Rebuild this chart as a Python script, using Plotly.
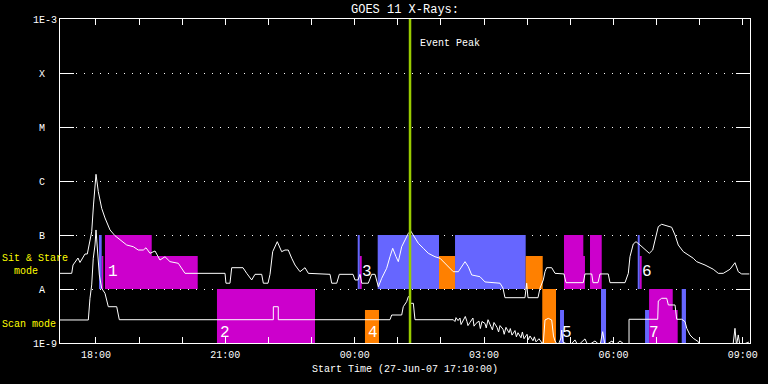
import datetime as dt
import plotly.graph_objects as go

# ---------------- data ----------------
START = dt.datetime(2007, 6, 27, 17, 10, 0)
END = dt.datetime(2007, 6, 28, 9, 10, 0)
PEAK_TIME = dt.datetime(2007, 6, 28, 1, 17, 0)

# long channel (upper curve): minutes after start, flux (W/m^2)
long_min = [0, 16.3, 18.1, 20.9, 25.0, 27.8, 32.0, 34.8, 38.0, 41.7,
            44.1, 46.6, 50.1, 53.3, 58.0, 62.6, 69.6, 76.5, 83.5, 92.8,
            102.0, 108.9, 115.9, 119.7, 125.2, 132.2, 139.1, 146.1, 153.0, 164.6,
            173.9, 229.6, 230.9, 236.5, 238.9, 254.6, 259.8, 266.7, 271.3, 280.6,
            282.9, 289.4, 292.2, 295.9, 302.3, 308.4, 313.0, 317.6, 322.4, 327.0,
            333.9, 340.9, 345.5, 375.7, 378.0, 385.0, 388.6, 407.7, 410.4, 414.6,
            417.4, 419.8, 428.9, 433.7, 438.3, 442.9, 447.6, 454.5, 459.1, 462.9,
            467.5, 470.7, 475.4, 480.0, 484.6, 487.9, 493.9, 498.5, 505.5, 512.4,
            521.7, 528.7, 538.0, 547.2, 554.2, 558.9, 563.5, 568.1, 572.8, 584.3,
            591.3, 612.2, 616.3, 619.1, 646.9, 649.3, 651.1, 665.0, 667.8, 672.4,
            674.8, 677.1, 684.1, 688.7, 701.2, 704.0, 728.1, 730.4, 739.8, 741.6,
            748.5, 751.3, 762.8, 765.2, 786.1, 790.7, 793.0, 797.6, 801.4, 807.0,
            813.9, 819.9, 824.6, 830.2, 832.4, 837.1, 844.1, 851.0, 855.7, 860.2,
            867.2, 874.1, 881.1, 885.8, 892.8, 897.4, 908.9, 915.9, 922.8, 932.2,
            939.1, 943.7, 948.4, 959.0]
long_flux = [1.95e-8, 1.95e-8, 2.78e-8, 3.2e-8, 3.75e-8, 3.1e-8, 3.75e-8, 4.45e-8, 4.45e-8, 8.1e-8,
             1.15e-7, 3.6e-7, 1.33e-6, 6.34e-7, 3.12e-7, 2.07e-7, 1.24e-7, 9.7e-8, 8.07e-8, 6.53e-8,
             6.07e-8, 5.27e-8, 5.27e-8, 5.8e-8, 4.58e-8, 5.06e-8, 3.44e-8, 3.96e-8, 3.21e-8, 2.99e-8,
             1.95e-8, 1.95e-8, 1.28e-8, 1.28e-8, 2.48e-8, 2.48e-8, 1.95e-8, 1.47e-8, 1.87e-8, 1.87e-8,
             1.28e-8, 1.28e-8, 1.87e-8, 4.91e-8, 7.52e-8, 4.91e-8, 5.27e-8, 5.27e-8, 3.71e-8, 2.78e-8,
             2.09e-8, 2.48e-8, 1.95e-8, 1.87e-8, 1.28e-8, 1.28e-8, 1.87e-8, 1.87e-8, 1.47e-8, 1.47e-8,
             1.87e-8, 1.28e-8, 1.28e-8, 1.87e-8, 1.87e-8, 1.1e-8, 1.58e-8, 2.42e-8, 3.96e-8, 5.68e-8,
             3.96e-8, 3.21e-8, 6.07e-8, 8.07e-8, 1.07e-7, 1.19e-7, 8.69e-8, 7.02e-8, 5.68e-8, 4.58e-8,
             3.96e-8, 3.71e-8, 2.78e-8, 2.09e-8, 2.09e-8, 2.59e-8, 3.21e-8, 2.59e-8, 1.82e-8, 1.69e-8,
             1.35e-8, 1.28e-8, 1.04e-8, 6.9e-9, 6.9e-9, 1.28e-8, 6.9e-9, 6.9e-9, 1.03e-8, 1.47e-8,
             2.09e-8, 2.48e-8, 2.48e-8, 1.95e-8, 1.9e-8, 1.31e-8, 1.31e-8, 1.9e-8, 1.9e-8, 1.31e-8,
             1.31e-8, 1.9e-8, 1.9e-8, 1.31e-8, 1.31e-8, 1.95e-8, 3.96e-8, 6.81e-8, 7.52e-8, 6.53e-8,
             5.43e-8, 4.58e-8, 5.27e-8, 1.0e-7, 1.43e-7, 1.58e-7, 1.47e-7, 1.39e-7, 1.0e-7, 6.53e-8,
             4.91e-8, 4.27e-8, 3.71e-8, 3.21e-8, 2.99e-8, 2.78e-8, 2.32e-8, 1.95e-8, 1.95e-8, 2.32e-8,
             3.07e-8, 2.09e-8, 1.9e-8, 1.9e-8]

# short channel (lower curve)
short_min = [0, 39.4, 41.7, 44.1, 46.3, 48.7, 50.1, 51.9, 54.7, 58.0,
             62.6, 67.2, 78.9, 82.5, 296.8, 296.8, 303.7, 303.7, 459.1, 461.5,
             475.4, 477.6, 482.3, 484.6, 486.2, 487.0, 491.6, 493.9, 547.2, 549.5,
             551.0, 553.8, 556.5, 558.0, 560.7, 563.9, 566.2, 567.6, 570.4, 574.5,
             576.0, 578.7, 582.9, 584.8, 587.1, 591.3, 593.0, 595.5, 599.7, 601.6,
             603.8, 608.0, 610.2, 612.2, 616.3, 618.0, 620.5, 624.7, 626.5, 628.9,
             633.0, 635.0, 637.2, 641.4, 643.3, 645.6, 649.8, 651.5, 653.9, 658.1,
             660.0, 662.3, 666.4, 670.6, 672.4, 674.8, 679.4, 684.1, 686.6, 688.7,
             692.9, 697.0, 698.0, 699.8, 709.6, 716.5, 720.7, 730.4, 734.6, 744.3,
             751.3, 755.0, 758.3, 768.0, 772.2, 779.1, 787.5, 791.7, 791.7, 831.6,
             832.4, 837.1, 844.1, 846.4, 855.7, 858.0, 865.0, 869.6, 872.0, 876.5,
             881.1, 888.1, 890.4, 936.3, 939.1, 941.2, 943.7, 946.0, 958.5]
short_flux = [2.67e-9, 2.67e-9, 6.73e-9, 1.19e-8, 3.71e-8, 6.53e-8, 1.24e-7, 5.27e-8, 1.82e-8, 1.03e-8,
              8.32e-9, 4.7e-9, 4.7e-9, 2.7e-9, 2.7e-9, 4.7e-9, 4.7e-9, 2.7e-9, 2.7e-9, 3.3e-9,
              3.3e-9, 4.7e-9, 5.82e-9, 7.2e-9, 7.4e-9, 5.43e-9, 5.43e-9, 2.7e-9, 2.7e-9, 2.5e-9,
              2.95e-9, 2.6e-9, 2.9e-9, 2.2e-9, 2.6e-9, 3.1e-9, 2.5e-9, 2.1e-9, 2.4e-9, 2.9e-9,
              2.05e-9, 2.3e-9, 2.55e-9, 1.85e-9, 2.5e-9, 2.3e-9, 1.9e-9, 2.7e-9, 2.0e-9, 1.75e-9,
              2.4e-9, 1.95e-9, 1.6e-9, 2.1e-9, 1.8e-9, 1.45e-9, 1.95e-9, 1.55e-9, 1.85e-9, 1.4e-9,
              1.7e-9, 1.3e-9, 1.55e-9, 1.25e-9, 1.6e-9, 1.2e-9, 1.45e-9, 1.15e-9, 1.35e-9, 1.1e-9,
              1.3e-9, 1.05e-9, 1.2e-9, 1.0e-9, 1.0e-9, 2.67e-9, 2.86e-9, 2.67e-9, 1.35e-9, 1.09e-9,
              9e-10, 1.24e-9, 1.74e-9, 1.04e-9, 9e-10, 1.14e-9, 9e-10, 1.19e-9, 9e-10, 1.09e-9,
              9e-10, 1.62e-9, 9e-10, 1.09e-9, 9e-10, 1.09e-9, 9e-10, 9e-10, 2.75e-9, 2.75e-9,
              6.0e-9, 6.73e-9, 6.73e-9, 5.06e-9, 5.06e-9, 2.75e-9, 2.75e-9, 2.48e-9, 1.87e-9, 1.41e-9,
              1.22e-9, 1.06e-9, 9e-10, 9e-10, 1.87e-9, 9e-10, 1.41e-9, 9e-10, 1.04e-9]

# observing blocks: band, start/end (minutes after start), coverage, block type
blk_band = ["ss"] * 15 + ["scan"] * 9
blk_start = [54.3, 58.0, 62.6, 127.6, 414.2, 417.0, 442.0, 527.3, 549.6, 647.9,
             701.2, 728.1, 737.4, 803.8, 806.5,
             218.4, 424.3, 671.0, 695.7, 752.7, 814.0, 819.6, 852.5, 865.0]
blk_end = [58.0, 60.2, 127.6, 191.6, 417.0, 419.8, 527.3, 549.6, 647.9, 671.6,
           728.1, 730.4, 753.7, 806.5, 809.3,
           354.8, 443.8, 690.1, 701.2, 759.7, 819.6, 852.5, 859.4, 870.9]
blk_level = ["full", "part", "full", "part", "full", "part", "full", "part", "full", "part",
             "full", "part", "full", "full", "part",
             "full", "part", "full", "part", "full", "part", "full", "part", "full"]
blk_type = [1, 0, 0, 0, 1, 0, 1, 2, 1, 2,
            0, 0, 0, 1, 0,
            0, 2, 2, 1, 1, 1, 0, 0, 1]

# group number labels
grp_text = ["1", "2", "3", "4", "5", "6", "7"]
grp_min = [64.0, 219.8, 418.0, 426.4, 695.7, 807.0, 816.0]
grp_band = ["ss", "scan", "ss", "scan", "scan", "ss", "scan"]

y_tickvals = [1e-9, 1e-8, 1e-7, 1e-6, 1e-5, 1e-4, 1e-3]
y_ticktext = ["1E-9", "A", "B", "C", "M", "X", "1E-3"]

# ---------------- styling ----------------
TYPE_COLORS = {0: "#CC00CC", 1: "#6666FF", 2: "#FF8000"}
BAND_BOTTOM_LOG = {"ss": -8.0, "scan": -9.0}
LEVEL_FRAC = {"full": 1.0, "part": 0.61}
LABEL_LOG = {"ss": -7.68, "scan": -8.82}
FONT = "Liberation Mono"


def to_time(m):
    return START + dt.timedelta(minutes=m)


fig = go.Figure()

for tcode, col in TYPE_COLORS.items():
    xs, ys = [], []
    for b, s, e, lv, ty in zip(blk_band, blk_start, blk_end, blk_level, blk_type):
        if ty != tcode:
            continue
        lo = BAND_BOTTOM_LOG[b]
        bottom = 10 ** lo
        top = 10 ** (lo + LEVEL_FRAC[lv])
        t0, t1 = to_time(s), to_time(e)
        xs += [t0, t1, t1, t0, t0, None]
        ys += [bottom, bottom, top, top, bottom, None]
    fig.add_trace(go.Scatter(x=xs, y=ys, mode="lines", fill="toself", fillcolor=col,
                             line=dict(width=0, color=col), hoverinfo="skip",
                             showlegend=False))

fig.add_trace(go.Scatter(x=[to_time(m) for m in long_min], y=long_flux, mode="lines",
                         line=dict(color="white", width=1), showlegend=False))
fig.add_trace(go.Scatter(x=[to_time(m) for m in short_min], y=short_flux, mode="lines",
                         line=dict(color="white", width=1), showlegend=False))

fig.add_trace(go.Scatter(x=[PEAK_TIME, PEAK_TIME], y=[1e-9, 1e-3], mode="lines",
                         line=dict(color="#99CC00", width=2.5), showlegend=False))

annotations = []
for txt, m, b in zip(grp_text, grp_min, grp_band):
    annotations.append(dict(x=to_time(m), y=LABEL_LOG[b], xref="x", yref="y",
                            text=txt, showarrow=False, xanchor="left", yanchor="middle",
                            font=dict(family=FONT, size=16, color="white")))

annotations += [
    dict(x=PEAK_TIME, y=0.924, xref="x", yref="paper", text="Event Peak", showarrow=False,
         xanchor="left", yanchor="middle", xshift=8, font=dict(family=FONT, size=10, color="white")),
    dict(x=0.5, y=-0.082, xref="paper", yref="paper", text="Start Time (27-Jun-07 17:10:00)",
         showarrow=False, xanchor="center", yanchor="middle",
         font=dict(family=FONT, size=10, color="white")),
    dict(x=0, y=0.262, xref="paper", yref="paper", xshift=-60, text="Sit & Stare",
         showarrow=False, xanchor="left", yanchor="middle",
         font=dict(family=FONT, size=10, color="#FFFF00")),
    dict(x=0, y=0.222, xref="paper", yref="paper", xshift=-60, text="\u00a0\u00a0mode",
         showarrow=False, xanchor="left", yanchor="middle",
         font=dict(family=FONT, size=10, color="#FFFF00")),
    dict(x=0, y=0.0586, xref="paper", yref="paper", xshift=-60, text="Scan mode",
         showarrow=False, xanchor="left", yanchor="middle",
         font=dict(family=FONT, size=10, color="#FFFF00")),
]

fig.update_layout(
    width=768, height=384,
    paper_bgcolor="black", plot_bgcolor="black",
    margin=dict(l=60, r=18, t=19, b=41, autoexpand=False),
    showlegend=False,
    font=dict(family=FONT, size=10, color="white"),
    title=dict(text="GOES 11 X-Rays:", x=0.5, xref="paper", xanchor="center",
               y=1 - 9 / 384, yref="container", yanchor="middle", automargin=False,
               font=dict(family=FONT, size=12, color="white")),
    annotations=annotations,
)

fig.update_xaxes(
    type="date", range=[START, END], automargin=False,
    tickformat="%H:%M", tick0="2007-06-27 18:00:00", dtick=3 * 3600 * 1000,
    ticks="inside", ticklen=6, tickcolor="white", tickwidth=1,
    showline=True, linecolor="white", linewidth=1, mirror="ticks",
    showgrid=False, zeroline=False, ticklabelstandoff=2,
    minor=dict(tick0="2007-06-27 18:00:00", dtick=3600 * 1000, ticks="inside",
               ticklen=6, tickcolor="white", showgrid=False),
    tickfont=dict(family=FONT, size=10, color="white"),
)

fig.update_yaxes(
    type="log", range=[-9, -3], automargin=False,
    tickvals=y_tickvals,
    ticktext=[t if len(t) > 1 else t + "\u00a0\u00a0" for t in y_ticktext],
    ticks="inside", ticklen=14, tickcolor="white", tickwidth=1,
    showline=True, linecolor="white", linewidth=1, mirror="ticks",
    showgrid=True, gridcolor="white", gridwidth=1, griddash="1px,7px",
    zeroline=False,
    tickfont=dict(family=FONT, size=10, color="white"),
)

fig.write_html(
    "out.html",
    config={"displayModeBar": False},
    post_script="document.body.style.margin='0';document.body.style.background='black';",
)
